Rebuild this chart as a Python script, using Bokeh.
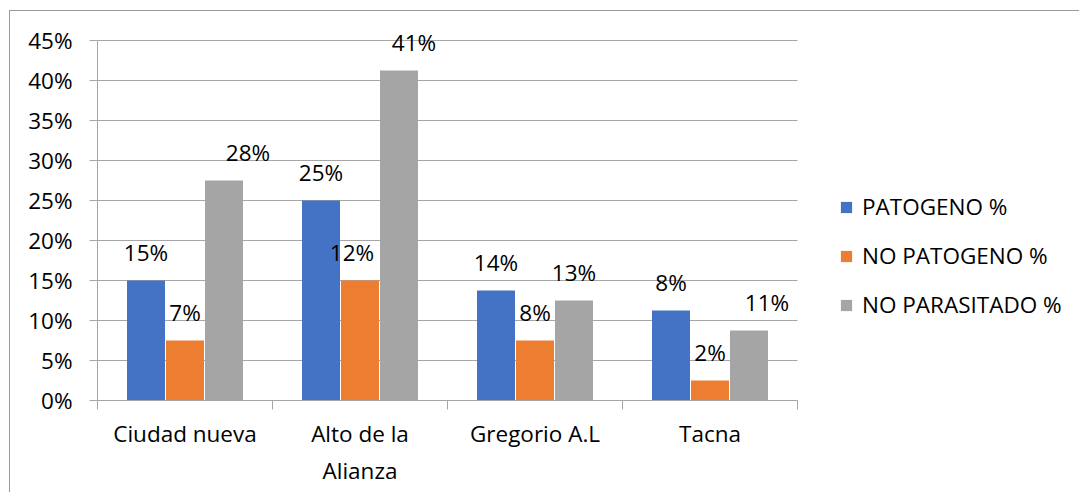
from bokeh.plotting import figure
from bokeh.models import (Range1d, FixedTicker, PrintfTickFormatter,
                          ColumnDataSource, Legend, LegendItem)
from bokeh.transform import dodge
from bokeh.core.properties import value
from bokeh.embed import file_html
from bokeh.resources import INLINE

# ---- data ----
categories = ["Ciudad nueva", "Alto de la\nAlianza", "Gregorio A.L", "Tacna"]
series_names = ["PATOGENO %", "NO PATOGENO %", "NO PARASITADO %"]
patogeno = [15, 25, 13.75, 11.25]
no_patogeno = [7.5, 15, 7.5, 2.5]
no_parasitado = [27.5, 41.25, 12.5, 8.75]
patogeno_labels = ["15%", "25%", "14%", "8%"]
no_patogeno_labels = ["7%", "12%", "8%", "2%"]
no_parasitado_labels = ["28%", "41%", "13%", "11%"]
y_ticks = [0, 5, 10, 15, 20, 25, 30, 35, 40, 45]

# ---- styles ----
colors = ["#4472C4", "#ED7D31", "#A5A5A5"]
label_dx = [[0, 0, 0, 0], [0, -8, 0, 0], [24, 15, 0, 18]]
FONT = "Open Sans"
FS = "22.5px"
GRID = "#a6a6a6"
BORDER = "#9a9a9a"
pitch = 39.0 / 175.0
bar_w = 38.0 / 175.0

n = len(categories)
centers = [i + 0.5 for i in range(n)]
y_max = y_ticks[-1]

# canvas is offset by a CSS margin so the chart border sits at x=9, y=10
OX, OY = 10, 11
W, H = 1080 - OX, 493 - OY
LEFT = 97 - OX            # frame left inside canvas
PLOT_W = 700.0            # pixel width of the category area
PLOT_H = 360.0            # pixel height of the 0..45% area
BOTTOM = H - (400 - OY)
frame_w = W - LEFT
frame_h = H - BOTTOM
x_end = n * frame_w / PLOT_W        # frame extends right to hold the legend
y_end = y_max * frame_h / PLOT_H    # and up to hold the top data label

p = figure(width=W, height=H, output_backend="svg", toolbar_location=None,
           x_range=Range1d(0, x_end), y_range=Range1d(0, y_end),
           min_border_left=LEFT, min_border_right=0, min_border_top=0,
           min_border_bottom=BOTTOM)
p.styles = {"margin-left": "9px", "margin-top": "10px",
            "border-left": f"1px solid {BORDER}", "border-top": f"1px solid {BORDER}"}
p.outline_line_color = None
p.background_fill_color = "white"
p.border_fill_color = "white"
p.xgrid.visible = False
p.ygrid.visible = False

# horizontal gridlines only across the category area
p.segment(x0=0, x1=n, y0=y_ticks, y1=y_ticks, line_color=GRID, line_width=1)

ya = p.yaxis[0]
ya.bounds = (0, y_max)
ya.ticker = FixedTicker(ticks=y_ticks)
ya.formatter = PrintfTickFormatter(format="%d%%")
ya.axis_line_color = GRID
ya.major_tick_line_color = GRID
ya.major_tick_out = 8
ya.major_tick_in = 0
ya.minor_tick_line_color = None
ya.major_label_standoff = 17
ya.major_label_text_font = FONT
ya.major_label_text_font_size = FS
ya.major_label_text_color = "black"

# x axis: labels at category centres, tick marks at category boundaries
xa = p.xaxis[0]
xa.bounds = (0, n)
xa.ticker = FixedTicker(ticks=centers, minor_ticks=list(range(n + 1)))
xa.major_label_overrides = {c: lab for c, lab in zip(centers, categories)}
xa.axis_line_color = GRID
xa.major_tick_line_color = None
xa.major_tick_out = 0
xa.minor_tick_line_color = GRID
xa.minor_tick_out = 9
xa.minor_tick_in = 0
xa.major_label_standoff = 8
xa.major_label_text_font = FONT
xa.major_label_text_font_size = FS
xa.major_label_text_color = "black"

all_vals = [patogeno, no_patogeno, no_parasitado]
all_labels = [patogeno_labels, no_patogeno_labels, no_parasitado_labels]
items = []
for k, (vals, labs) in enumerate(zip(all_vals, all_labels)):
    src = ColumnDataSource(dict(x=centers, v=vals, lab=labs, dx=label_dx[k]))
    off = (k - 1) * pitch
    r = p.vbar(x=dodge("x", off), top="v", width=bar_w, source=src,
               fill_color=colors[k], line_color=None)
    p.text(x=dodge("x", off), y="v", text="lab", source=src,
           x_offset="dx", y_offset=-28, text_align="center", text_baseline="alphabetic",
           text_font=value(FONT), text_font_size=FS, text_color="black")
    items.append(LegendItem(label=series_names[k], renderers=[r]))

legend = Legend(items=items, location=(742, 80), orientation="vertical",
                padding=0, margin=0, spacing=18, glyph_width=14, glyph_height=14,
                label_height=30, label_standoff=9,
                label_text_font=FONT, label_text_font_size=FS, label_text_color="black",
                border_line_color=None, background_fill_alpha=0)
p.add_layout(legend, "center")

open("out.html", "w").write(file_html(p, INLINE))
